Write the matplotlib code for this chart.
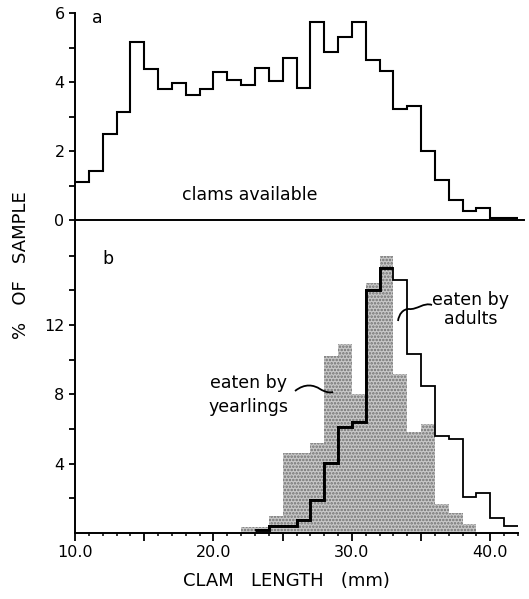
import matplotlib
matplotlib.use("Agg")
import matplotlib.pyplot as plt
import numpy as np
from matplotlib.path import Path
from matplotlib.patches import PathPatch
from matplotlib.ticker import MultipleLocator, FixedLocator, FuncFormatter

plt.rcParams['font.family'] = ['DejaVu Sans']

# ---------------- data ----------------
# (a) clams available, 1-mm bins starting at 10 mm
avail_start = 10
avail_pct = [1.11, 1.42, 2.48, 3.14, 5.15, 4.37, 3.79, 3.96, 3.61, 3.80,
             4.30, 4.06, 3.91, 4.40, 4.03, 4.69, 3.82, 5.73, 4.86, 5.31,
             5.73, 4.64, 4.32, 3.21, 3.30, 2.00, 1.16, 0.58, 0.26, 0.36,
             0.06, 0.06]
# (b) eaten by yearlings, 1-mm bins starting at 22 mm
year_start = 22
year_pct = [0.36, 0.36, 0.98, 4.6, 4.6, 5.2, 10.2, 10.9, 8.0, 14.4,
            16.0, 9.2, 5.8, 6.26, 1.66, 1.17, 0.52]
# (b) eaten by adults, 1-mm bins starting at 23 mm
adult_start = 23
adult_pct = [0.17, 0.4, 0.4, 0.75, 1.9, 4.05, 6.1, 6.4, 14.0, 15.3,
             14.6, 10.3, 8.5, 5.6, 5.4, 2.1, 2.3, 0.86, 0.4]

top_ticks = [0, 2, 4, 6]
bot_ticks = [4, 8, 12]
x_labels = [10, 20, 30, 40]

# ---------------- figure ----------------
W, H = 529, 599
fig = plt.figure(figsize=(W / 100, H / 100), dpi=100)

def fx(px):
    return px / W

def fy(py):
    return 1 - py / H

L, R = 75, 518
ax_a = fig.add_axes([fx(L), fy(220), fx(R) - fx(L), fy(13) - fy(220)])
ax_b = fig.add_axes([fx(L), fy(533), fx(R) - fx(L), fy(221) - fy(533)])

XMIN, XMAX = 10, 42
for ax in (ax_a, ax_b):
    ax.set_xlim(XMIN, XMAX)
    for s in ('top', 'right'):
        ax.spines[s].set_visible(False)
    for s in ('left', 'bottom'):
        ax.spines[s].set_linewidth(1.4)
    ax.patch.set_alpha(0)

# panel a
edges_a = avail_start + np.arange(len(avail_pct) + 1)
ax_a.stairs(avail_pct, edges_a, color='black', linewidth=1.5, baseline=None)
ax_a.set_ylim(0, 6)
ax_a.yaxis.set_major_locator(FixedLocator(top_ticks))
ax_a.yaxis.set_minor_locator(FixedLocator([1, 3, 5]))
ax_a.tick_params(axis='y', which='both', direction='out', length=4.5,
                 width=1.3, labelsize=11.5, pad=3)
ax_a.tick_params(axis='x', which='both', bottom=False, labelbottom=False)
ax_a.spines['bottom'].set_bounds(XMIN, 42.4)
ax_a.spines['bottom'].set_clip_on(False)
ax_a.text(11.2, 5.85, 'a', fontsize=12.5, ha='left', va='center')
ax_a.text(22.65, 0.72, 'clams available', fontsize=12.5, ha='center', va='center')

# panel b
edges_y = year_start + np.arange(len(year_pct) + 1)
edges_ad = adult_start + np.arange(len(adult_pct) + 1)
ax_b.stairs(year_pct, edges_y, fill=True, facecolor='#c8c8c8',
            edgecolor='none', linewidth=0)
plt.rcParams['hatch.linewidth'] = 1.2
ax_b.stairs(year_pct, edges_y, fill=True, facecolor='none',
            edgecolor='#707070', hatch='.....', linewidth=0)
ax_b.stairs(adult_pct, edges_ad, color='black', linewidth=1.3, baseline=None)
# heavier stroke where the adult outline runs over the stippled area
n_thick = 10
ax_b.stairs(adult_pct[:n_thick], edges_ad[:n_thick + 1], color='black',
            linewidth=2.1, baseline=None)
ax_b.set_ylim(0, 18)
ax_b.yaxis.set_major_locator(FixedLocator(bot_ticks))
ax_b.yaxis.set_minor_locator(FixedLocator([2, 6, 10, 14, 16]))
ax_b.tick_params(axis='y', which='both', direction='out', length=4.5,
                 width=1.3, labelsize=11.5, pad=3)
ax_b.xaxis.set_major_locator(MultipleLocator(5))
ax_b.xaxis.set_minor_locator(MultipleLocator(1))
ax_b.xaxis.set_major_formatter(FuncFormatter(
    lambda v, p: f'{v:.1f}' if int(round(v)) in x_labels else ''))
ax_b.tick_params(axis='x', which='major', direction='out', length=5.5,
                 width=1.3, labelsize=11.5, pad=3)
ax_b.tick_params(axis='x', which='minor', direction='out', length=2.5,
                 width=1.1)
ax_b.text(12.0, 15.8, 'b', fontsize=12.5, ha='left', va='center')
ax_b.text(22.5, 7.96, 'eaten by\nyearlings', fontsize=12.5, ha='center',
          va='center', linespacing=1.45)
ax_b.text(38.6, 12.9, 'eaten by\nadults', fontsize=12.5, ha='center',
          va='center', linespacing=1.1)

# leader curves (pixel -> data of panel b)
def bx(px):
    return XMIN + (px - L) / ((R - L) / (XMAX - XMIN))

def by(py):
    return (533 - py) / (312 / 18)

def curve(pts):
    verts = [(bx(x), by(y)) for x, y in pts]
    codes = [Path.MOVETO] + [Path.CURVE4] * (len(verts) - 1)
    return PathPatch(Path(verts, codes), facecolor='none', edgecolor='black',
                     linewidth=1.3)

ax_b.add_patch(curve([(295, 391), (305, 383), (314, 385), (320, 389),
                      (325, 392), (329, 393), (333, 392)]))
ax_b.add_patch(curve([(432, 305), (424, 302), (417, 310), (409, 309),
                      (403, 309), (399, 314), (398, 321)]))

fig.text(fx(21), fy(265), '%   OF   SAMPLE', rotation=90, fontsize=13,
         ha='center', va='center')
fig.text(fx(286), fy(581), 'CLAM   LENGTH   (mm)', fontsize=13,
         ha='center', va='center')

fig.savefig('out.png', dpi=100)
